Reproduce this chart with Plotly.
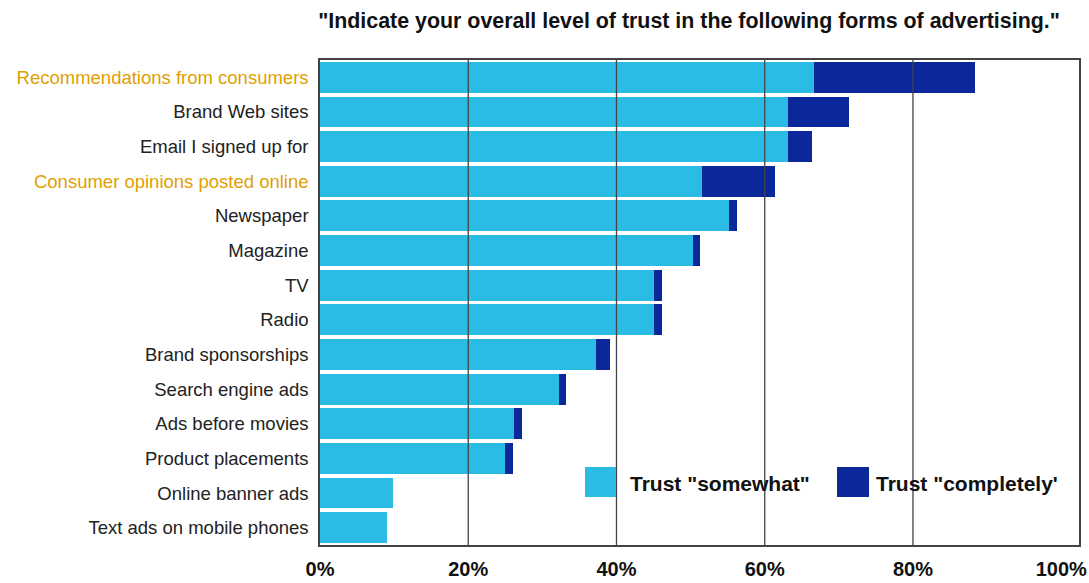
import plotly.graph_objects as go

categories = [
    "Recommendations from consumers",
    "Brand Web sites",
    "Email I signed up for",
    "Consumer opinions posted online",
    "Newspaper",
    "Magazine",
    "TV",
    "Radio",
    "Brand sponsorships",
    "Search engine ads",
    "Ads before movies",
    "Product placements",
    "Online banner ads",
    "Text ads on mobile phones",
]
trust_somewhat = [66.7, 63.1, 63.1, 51.5, 55.2, 50.3, 45.1, 45.1, 37.2, 32.2, 26.2, 25.0, 9.9, 9.1]
trust_completely = [21.7, 8.3, 3.3, 9.9, 1.0, 1.0, 1.1, 1.1, 1.9, 1.0, 1.1, 1.0, 0, 0]
highlighted = ["Recommendations from consumers", "Consumer opinions posted online"]
x_tickvals = [0, 20, 40, 60, 80, 100]
x_ticktext = ["0%", "20%", "40%", "60%", "80%", "100%"]
grid_vals = [20, 40, 60, 80]
series_names = ['Trust "somewhat"', 'Trust "completely\'']

LIGHT = "#2BBCE6"
DARK = "#0A2899"
BOLD = "Liberation Sans, Arial, sans-serif"

fig = go.Figure()
fig.add_trace(go.Bar(y=categories, x=trust_somewhat, orientation="h",
                     marker=dict(color=LIGHT, line=dict(width=0)), name=series_names[0]))
fig.add_trace(go.Bar(y=categories, x=trust_completely, orientation="h",
                     marker=dict(color=DARK, line=dict(width=0)), name=series_names[1]))

ticktext_y = [
    (f'<span style="color:#E0A000">{c}</span>' if c in highlighted else c)
    for c in categories
]

for g in grid_vals:
    fig.add_shape(type="line", xref="x", yref="paper", x0=g, x1=g, y0=0, y1=1,
                  line=dict(color="#444", width=1.3), layer="above")

# Legend (manual, large swatches)
fig.add_shape(type="rect", xref="paper", yref="paper", x0=(585-320)/759, x1=(616-320)/759,
              y0=(545-497)/485, y1=(545-467)/485, fillcolor=LIGHT, line=dict(width=0))
fig.add_shape(type="rect", xref="paper", yref="paper", x0=(837-320)/759, x1=(869-320)/759,
              y0=(545-497)/485, y1=(545-467)/485, fillcolor=DARK, line=dict(width=0))
fig.add_annotation(xref="paper", yref="paper", x=(628-320)/759, y=(545-483)/485,
                   text=series_names[0], showarrow=False, xanchor="left", yanchor="middle",
                   font=dict(family=BOLD, size=21, color="#111", weight="bold"))
fig.add_annotation(xref="paper", yref="paper", x=(874-320)/759, y=(545-483)/485,
                   text=series_names[1], showarrow=False, xanchor="left", yanchor="middle",
                   font=dict(family=BOLD, size=21, color="#111", weight="bold"))

fig.update_layout(
    width=1089, height=583,
    margin=dict(l=320, r=10, t=60, b=38),
    barmode="stack", bargap=0.11,
    plot_bgcolor="white", paper_bgcolor="white",
    showlegend=False,
    title=dict(text='"Indicate your overall level of trust in the following forms of advertising."',
               x=(318+1060)/2/1089, xanchor="center", y=1-21/583, yanchor="middle",
               font=dict(family=BOLD, size=21.4, color="#111", weight="bold")),
    xaxis=dict(range=[0, 102.4], tickvals=x_tickvals, ticktext=x_ticktext, showgrid=False,
               zeroline=False, showline=True, mirror=True, linecolor="#444", linewidth=1.5,
               ticks="", ticklabelstandoff=5, automargin=False,
               tickfont=dict(family=BOLD, size=20, color="#111", weight="bold")),
    yaxis=dict(autorange="reversed", tickmode="array", tickvals=categories, ticktext=ticktext_y,
               showgrid=False, showline=True, mirror=True, linecolor="#444", linewidth=1.5,
               ticks="", ticklabelstandoff=6, automargin=False,
               tickfont=dict(family="Liberation Sans, Arial, sans-serif", size=18.5, color="#222")),
)

fig.write_html("out.html")
